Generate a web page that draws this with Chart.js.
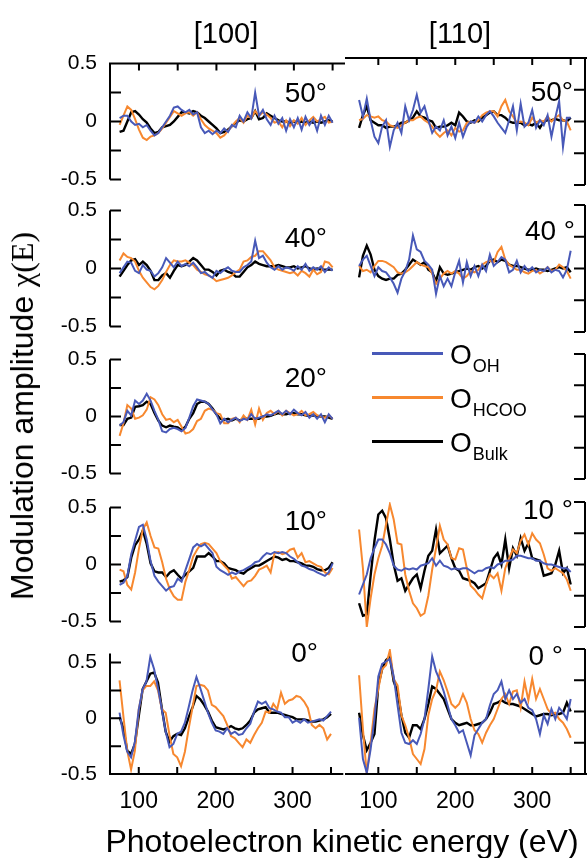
<!DOCTYPE html>
<html><head><meta charset="utf-8">
<script src="https://cdn.jsdelivr.net/npm/chart.js@4.4.1/dist/chart.umd.min.js"></script>
<style>
html,body{margin:0;padding:0;background:#fff;}
body{width:587px;height:858px;position:relative;overflow:hidden;font-family:"Liberation Sans",Arial,Helvetica,sans-serif;color:#000;}
canvas{position:absolute;}
.t{position:absolute;white-space:nowrap;line-height:1;}
.lg{position:absolute;left:372px;width:71px;height:2.5px;}
.sb{font-size:18px;position:relative;top:8px;margin-left:1px;}
</style></head><body>
<script>
// ---- data (amplitude chi(E) vs photoelectron kinetic energy in eV) ----
const energies = [75,80,85,90,95,100,105,110,115,120,125,130,135,140,145,150,155,160,165,170,175,180,185,190,195,200,205,210,215,220,225,230,235,240,245,250,255,260,265,270,275,280,285,290,295,300,305,310,315,320,325,330,335,340,345,350];
const xTicks = [100,150,200,250,300,350];
const yTicks = [-0.5,-0.25,0,0.25,0.5];
const columns = ['[100]','[110]'];
const anglesL = ['50°','40°','20°','10°','0°'];
const anglesR = ['50°','40 °','','10 °','0 °'];
const seriesNames = ['OH','HCOO','Bulk'];

// [100] azimuth
const ohL50 = [0.03,0.05,0.05,0,-0.03,-0.02,-0.05,-0.03,-0.08,-0.12,-0.10,-0.05,0,0.05,0.12,0.13,0.10,0.08,0.10,0.06,0.08,-0.05,-0.10,-0.08,-0.11,-0.08,-0.10,-0.06,-0.09,-0.03,-0.05,0.05,0,0.08,0.03,0.25,0.05,0.10,0.02,-0.03,0.05,-0.02,0.03,-0.08,0.02,-0.05,0.03,-0.07,0.04,-0.03,0.02,-0.08,0.05,-0.03,0.05,-0.01];
const hcooL50 = [-0.03,0.05,0.13,0.10,0.02,-0.07,-0.14,-0.16,-0.13,-0.12,-0.10,-0.06,-0.01,0.04,0.09,0.07,0.05,0.07,0.08,0.05,0.08,0.02,-0.03,-0.06,-0.08,-0.10,-0.14,-0.12,-0.08,-0.04,0,0.03,-0.01,0.05,0.03,0.09,0.05,0.08,0.06,0.03,-0.01,0,-0.05,0.01,-0.04,0.01,-0.02,0.03,-0.03,0.01,0.04,0,0.02,0.04,-0.01,0];
const bulkL50 = [-0.09,-0.08,0,0.08,0.09,0.06,0.02,-0.01,-0.06,-0.10,-0.09,-0.05,-0.04,-0.03,0,0.04,0.08,0.08,0.07,0.09,0.08,0.05,0.03,0,-0.03,-0.06,-0.10,-0.09,-0.07,-0.04,-0.01,0.01,0,0.02,0.03,0.09,0.02,0.03,0.07,0.05,0.03,0.01,0,0,-0.01,0,-0.01,0,-0.01,0,-0.01,0,-0.01,0,0.01,0];

const ohL40 = [-0.04,0.01,0.06,0.05,-0.02,-0.04,0.03,-0.01,-0.02,-0.07,-0.04,0.01,0.09,0.05,0.01,0.06,0.02,0.04,0.02,0.05,0.01,-0.04,-0.03,-0.06,-0.08,-0.02,-0.04,-0.01,0.01,-0.02,-0.03,-0.03,0.01,0.03,0.06,0.24,0.09,0.11,0.05,0.01,-0.01,0.02,-0.01,0.01,0,-0.02,0.02,-0.01,0.04,-0.02,0.01,-0.01,0.02,-0.03,0.01,-0.02];
const hcooL40 = [0.07,0.13,0.10,0.09,0.06,-0.02,-0.08,-0.12,-0.16,-0.18,-0.15,-0.10,-0.03,0.03,0.07,0.06,0.06,0.07,0.05,0.03,-0.01,-0.03,-0.05,-0.06,-0.08,-0.11,-0.10,-0.09,-0.08,-0.06,-0.03,-0.01,0.06,0.07,0.10,0.11,0.15,0.15,0.11,0.07,0.01,-0.01,-0.02,-0.03,-0.04,-0.03,-0.06,-0.02,-0.04,-0.07,-0.01,-0.05,-0.03,0.06,0.05,0.01];
const bulkL40 = [-0.07,-0.02,0.03,0.07,0.08,0.03,0.06,0.03,-0.02,-0.10,-0.10,-0.06,-0.04,-0.08,-0.02,0.03,0.02,0.03,0.06,0.09,0.07,0.03,-0.01,-0.01,-0.03,-0.06,-0.02,-0.01,-0.03,-0.04,-0.07,-0.07,-0.03,0.01,0.03,0.06,0.04,0.03,0.02,0.02,0.02,0.03,0.02,0.01,0.01,0.02,0,0.01,0.02,0,-0.01,0,-0.01,-0.01,-0.01,-0.01];

const ohL20 = [-0.08,-0.05,0.05,0.01,0.14,0.11,0.14,0.20,0.14,0.05,-0.03,-0.13,-0.14,-0.11,-0.10,-0.11,-0.13,-0.10,-0.01,0.09,0.15,0.14,0.13,0.11,0.06,0.02,-0.06,-0.02,-0.05,-0.03,-0.01,-0.04,-0.02,-0.03,0.02,-0.02,-0.01,0,0.02,0.01,0.03,0.05,0.02,0.05,0.02,0.06,0.03,0.01,0.04,-0.01,0.02,-0.02,0.02,-0.05,0.02,-0.02];
const hcooL20 = [-0.17,-0.06,0.10,0.07,-0.02,-0.01,0.01,0.06,0.17,0.15,0.10,0.02,-0.03,-0.02,-0.05,-0.03,-0.09,-0.15,-0.14,-0.11,-0.04,-0.02,0.05,0.07,0.06,0.03,0.02,-0.06,-0.06,-0.02,-0.01,-0.05,0.01,-0.03,0.06,-0.07,0.07,-0.03,0.03,0.05,0.02,0.05,0.01,0.05,0.03,0.01,0.02,0.05,0.01,0.02,0.04,0.01,0,-0.01,0.01,-0.02];
const bulkL20 = [-0.075,-0.075,-0.02,-0.01,0.085,0.09,0.10,0.13,0.11,0.03,-0.035,-0.08,-0.095,-0.08,-0.09,-0.095,-0.12,-0.09,-0.02,0.03,0.11,0.13,0.13,0.11,0.07,0.02,-0.02,-0.03,-0.02,-0.035,-0.02,-0.035,-0.02,-0.02,-0.02,-0.02,-0.02,0,0,0.005,0.02,0.03,0.02,0.02,0.03,0.03,0.02,0.02,0.01,0.005,0.01,0.005,0,0,-0.01,-0.02];

const ohL10 = [-0.18,-0.16,-0.10,0.09,0.21,0.33,0.35,0.22,0.03,-0.10,-0.15,-0.19,-0.23,-0.20,-0.19,-0.125,-0.15,-0.05,0.05,0.15,0.18,0.16,0.18,0.14,0.10,-0.02,-0.05,-0.07,-0.09,-0.07,-0.085,-0.06,-0.05,-0.03,-0.01,0.02,0.03,0.07,0.10,0.09,0.11,0.10,0.11,0.10,0.07,0.05,0.02,-0.01,-0.02,-0.04,-0.05,-0.07,-0.085,-0.10,-0.07,0.01];
const hcooL10 = [-0.045,-0.06,-0.18,-0.22,-0.07,0.14,0.31,0.37,0.25,0.15,0.14,0.02,-0.125,-0.22,-0.28,-0.31,-0.31,-0.15,-0.045,0.07,0.13,0.18,0.19,0.18,0.14,0.10,0.03,-0.01,-0.045,-0.125,-0.11,-0.15,-0.19,-0.15,-0.14,-0.10,-0.045,-0.03,-0.01,-0.07,0.10,0.11,0.09,0.10,0.13,0.14,0.06,0.10,0.02,0.03,0.01,-0.01,-0.02,-0.07,-0.085,-0.03];
const bulkL10 = [-0.15,-0.14,-0.11,0.06,0.17,0.22,0.30,0.18,0.01,-0.06,-0.07,-0.07,-0.11,-0.07,-0.05,-0.09,-0.125,-0.09,-0.06,-0.03,0.07,0.07,0.07,0.10,0.07,0.03,0.03,0.01,-0.03,-0.04,-0.05,-0.07,-0.08,-0.05,-0.03,-0.01,-0.01,0.01,0.03,0.05,0.07,0.06,0.04,0.05,0.03,0.03,0.02,0.01,-0.01,-0.01,-0.02,-0.04,-0.05,-0.05,-0.03,0.02];

const ohL0 = [0.05,-0.15,-0.30,-0.35,-0.21,0.08,0.26,0.33,0.55,0.44,0.27,0.08,-0.12,-0.26,-0.23,-0.14,-0.12,-0.04,0.10,0.25,0.37,0.27,0.16,0.05,-0.04,-0.11,-0.12,-0.14,-0.09,-0.14,-0.12,-0.15,-0.14,-0.09,-0.05,0.06,0.15,0.13,0.15,0.09,0.08,0.06,0.05,0.01,0.01,-0.04,-0.02,-0.04,-0.01,-0.04,-0.03,-0.02,-0.01,-0.02,0.02,0.06];
const hcooL0 = [0.34,0.02,-0.29,-0.46,-0.29,0.08,0.25,0.29,0.29,0.33,0.25,0.08,0.05,-0.15,-0.32,-0.35,-0.43,-0.30,-0.09,0.10,0.29,0.30,0.29,0.25,0.12,0.10,0.06,0.02,-0.06,-0.16,-0.18,-0.22,-0.26,-0.19,-0.22,-0.15,-0.09,-0.04,0.06,0.05,0.13,0.08,0.23,0.13,0.16,0.17,0.20,0.19,0.15,0.09,-0.06,-0.09,-0.06,-0.09,-0.19,-0.14];
const bulkL0 = [0.01,-0.09,-0.29,-0.32,-0.23,0.02,0.26,0.33,0.40,0.41,0.32,0.09,-0.12,-0.21,-0.16,-0.14,-0.15,-0.09,0.01,0.10,0.20,0.17,0.12,0.06,-0.02,-0.08,-0.09,-0.10,-0.09,-0.07,-0.09,-0.10,-0.09,-0.06,-0.02,0.05,0.08,0.09,0.10,0.05,0.05,0.05,0.04,0.03,0.02,0.01,-0.01,-0.01,-0.01,-0.02,-0.03,-0.03,-0.02,-0.01,0.01,0.04];

// [110] azimuth
const ohR50 = [0.17,0.04,0.18,0.01,-0.12,-0.17,-0.04,0.01,-0.20,-0.07,-0.01,-0.09,0.12,0.01,0.09,0.21,0.07,0.12,0.01,-0.09,-0.04,-0.07,0.01,-0.11,-0.04,-0.13,-0.01,-0.12,-0.04,0,-0.01,0.04,0,0.05,0.08,0.04,-0.01,-0.05,-0.09,0.01,0.12,-0.07,0.14,-0.04,-0.01,0.09,-0.05,0.01,-0.03,0.05,-0.12,0.03,0.16,-0.20,0.03,0.03];
const hcooR50 = [0.01,0.02,0.05,0.04,0.03,0.04,0.01,0,-0.03,-0.04,-0.05,-0.03,-0.01,0.01,0.01,0.03,0.04,0.01,-0.01,-0.04,-0.09,-0.12,-0.09,-0.07,-0.11,-0.05,-0.08,-0.07,-0.01,0,-0.01,0.01,0.05,0.07,0.08,0.08,0.04,0.12,0.17,0.08,0.04,-0.01,0,-0.01,-0.03,0.03,-0.01,0.01,0,0.04,0,0.03,0.05,0.01,0,-0.07];
const bulkR50 = [-0.05,0.05,0.12,0.01,-0.01,-0.03,-0.03,-0.05,-0.04,-0.04,-0.03,-0.01,-0.01,0.01,0.03,0.08,0.04,0.03,0.01,0,-0.05,-0.04,-0.04,-0.03,-0.01,-0.03,0.07,0.04,0,-0.01,0.01,0,0.03,0.05,0.07,0.08,0.05,0.05,0.03,0,-0.01,-0.01,-0.01,-0.03,-0.02,-0.03,-0.01,-0.05,0,0.01,0.01,0.02,0.01,0.01,0,0.03];

const ohR40 = [0.02,0.07,0.10,0.02,-0.06,0.01,-0.02,-0.03,-0.07,-0.12,-0.19,-0.08,-0.02,0.07,0.26,0.15,0.13,0.06,0.03,-0.01,-0.20,-0.06,-0.14,-0.08,-0.14,-0.03,0.06,-0.11,0.05,-0.06,0.02,-0.06,0.03,-0.02,0.11,0.02,0.05,0.09,0.07,-0.03,-0.01,0.06,-0.03,0.02,-0.02,0.01,-0.03,-0.01,-0.02,0.01,-0.03,-0.01,-0.02,-0.07,-0.01,0.14];
const hcooR40 = [0.02,-0.02,-0.01,-0.03,0.02,0.06,0.06,0.05,0.03,0.01,-0.03,-0.04,-0.03,-0.01,0.02,0.05,0.03,0.02,0.01,-0.04,-0.12,-0.08,-0.04,-0.02,-0.04,-0.02,-0.04,-0.08,-0.06,-0.02,-0.03,-0.01,0.03,0.05,0.06,0.05,0.13,0.17,0.07,0.03,0.01,-0.01,-0.01,-0.03,-0.04,-0.02,-0.01,-0.04,-0.02,0.01,-0.02,-0.01,0.03,0.01,-0.02,-0.08];
const bulkR40 = [-0.07,0.10,0.18,0.11,-0.01,-0.06,-0.08,-0.09,-0.08,-0.08,-0.05,-0.04,-0.01,0.03,0.07,0.05,0.03,0.05,-0.01,-0.03,-0.10,0.01,-0.04,-0.05,-0.04,-0.03,-0.02,-0.01,0,-0.01,0.01,0.02,0,0.02,0.06,0.07,0.05,0.07,0.06,0.03,0.02,0.02,0.01,0,-0.01,-0.01,0,-0.01,-0.01,-0.02,-0.01,0,0.01,0,0.01,-0.03];

const ohR10 = [-0.24,-0.16,-0.08,0.05,0.13,0.20,0.20,0.16,0.09,-0.01,-0.04,-0.05,-0.03,-0.04,-0.03,-0.04,-0.01,0,0.01,0.05,-0.01,0.03,-0.01,-0.02,-0.04,-0.03,-0.04,-0.03,-0.03,-0.05,-0.07,-0.05,-0.05,-0.03,-0.02,-0.03,0,0.01,0.03,0.03,0.04,0.07,0.07,0.06,0.05,0.05,0.03,0.03,0.01,0,0,-0.01,-0.02,-0.03,-0.03,-0.06];
const hcooR10 = [0.28,-0.03,-0.50,-0.27,-0.08,0.05,0.15,0.32,0.48,0.36,0.17,0.16,-0.08,-0.21,-0.31,-0.35,-0.41,-0.39,-0.25,-0.04,0.13,0.31,0.20,0.16,0.05,0.04,0.13,0.12,-0.03,-0.17,-0.20,-0.24,-0.27,-0.16,-0.08,-0.11,-0.07,-0.21,-0.03,0.05,0.12,0.09,0.19,0.24,0.16,0.25,0.20,0.17,0.08,-0.03,-0.05,-0.03,-0.05,-0.07,-0.12,-0.21];
const bulkR10 = [-0.31,-0.41,-0.40,-0.09,0.19,0.40,0.43,0.37,0.20,0,-0.13,-0.11,-0.21,-0.16,-0.11,-0.08,-0.19,-0.05,0.07,0.11,0.28,0.09,0.12,0.15,0.05,-0.03,-0.05,-0.11,-0.12,-0.13,-0.15,-0.19,-0.17,-0.15,-0.05,0.05,0.09,0,0.20,-0.03,0.13,0.07,0.21,0.11,0.17,0.05,0.04,0.03,-0.09,-0.08,-0.07,0,0.11,-0.07,-0.03,-0.16];

const ohR0 = [-0.05,-0.38,-0.49,-0.30,-0.06,0.28,0.38,0.40,0.42,0.28,0.05,-0.17,-0.25,-0.26,-0.23,-0.26,-0.18,-0.06,0.18,0.44,0.32,0.25,0.16,0.05,-0.06,-0.11,-0.17,-0.15,-0.25,-0.35,-0.19,-0.14,-0.09,-0.06,0.05,0.14,0.17,0.24,0.10,0.17,0.10,0.14,0.07,0.10,0.03,0.01,-0.06,-0.18,-0.03,-0.10,0.02,-0.06,0.03,-0.01,-0.06,0.10];
const hcooR0 = [0.29,-0.14,-0.50,-0.25,0.02,0.18,0.34,0.37,0.49,0.26,0.21,-0.03,-0.11,-0.21,-0.34,-0.38,-0.42,-0.30,-0.03,0.10,0.17,0.32,0.25,0.16,0.06,0.03,0.06,0.14,0.07,-0.06,-0.15,-0.18,-0.25,-0.17,-0.11,-0.06,0.02,0.10,0.14,0.06,0.16,0.17,0.03,0.24,0.09,0.26,0.10,0.18,0.10,0.02,-0.02,-0.01,-0.06,-0.09,-0.14,-0.21];
const bulkR0 = [-0.01,-0.19,-0.31,-0.25,-0.18,0.21,0.34,0.41,0.44,0.24,0.16,-0.03,-0.17,-0.21,-0.11,-0.11,-0.14,-0.06,0.06,0.20,0.18,0.14,0.10,0.02,-0.06,-0.09,-0.11,-0.10,-0.09,-0.11,-0.11,-0.10,-0.09,-0.06,-0.01,0.06,0.07,0.09,0.07,0.06,0.06,0.05,0.04,0.02,0,-0.02,-0.04,-0.03,-0.02,-0.02,-0.03,-0.02,-0.02,-0.01,0.07,0];

// ---- layout / style ----
const FONT = '"Liberation Sans", Arial, Helvetica, sans-serif';
const BLUE = '#4859b8', ORANGE = '#f7882f', BLACK = '#000000';
const COLORS = [BLUE, ORANGE, BLACK];
Chart.defaults.font.family = FONT;
Chart.defaults.color = '#000';

const rows = [
  {top:58,  bottom:185, ymaxL:0.5,  topR:58,  L:[ohL50,hcooL50,bulkL50], R:[ohR50,hcooR50,bulkR50], first:true},
  {top:205, bottom:332, ymaxL:0.5,  topR:205, L:[ohL40,hcooL40,bulkL40], R:[ohR40,hcooR40,bulkR40]},
  {top:354, bottom:479, ymaxL:0.5,  topR:354, L:[ohL20,hcooL20,bulkL20], R:null},
  {top:502, bottom:627, ymaxL:0.5,  topR:502, L:[ohL10,hcooL10,bulkL10], R:[ohR10,hcooR10,bulkR10]},
  {top:648, bottom:774, ymaxL:0.58, topR:649, L:[ohL0,hcooL0,bulkL0],   R:[ohR0,hcooR0,bulkR0], last:true}
];

const frame = {
  id: 'frame',
  afterDatasetsDraw(chart, args, o) {
    const ctx = chart.ctx, a = chart.chartArea, xs = chart.scales.x, ys = chart.scales.y;
    ctx.save();
    ctx.strokeStyle = '#000'; ctx.lineWidth = 2; ctx.lineCap = 'butt';
    ctx.beginPath();
    const isL = o.side === 'L';
    const vx = isL ? a.left : a.right;
    const dir = isL ? 1 : -1;
    ctx.moveTo(vx, a.top - (o.top ? 1 : 0)); ctx.lineTo(vx, a.bottom + (o.bottom ? 1 : 0));
    yTicks.forEach(v => { const p = ys.getPixelForValue(v); ctx.moveTo(vx, p); ctx.lineTo(vx + dir * 11, p); });
    if (o.top || o.bottom) {
      const yy = o.top ? a.top : a.bottom;
      const d = o.top ? 1 : -1;
      const x0 = isL ? a.left - 1 : a.left;
      const x1 = isL ? a.right : chart.width;
      ctx.moveTo(x0, yy); ctx.lineTo(x1, yy);
      xTicks.forEach(v => { const p = xs.getPixelForValue(v); ctx.moveTo(p, yy); ctx.lineTo(p, yy + d * 7); });
    }
    ctx.stroke(); ctx.restore();
  }
};

function pts(vals) { return energies.map((e, i) => ({x: e, y: vals[i]})); }

function panel(side, row) {
  const isL = side === 'L';
  const series = isL ? row.L : row.R;
  const top = isL ? row.top : row.topR;
  const bottom = row.bottom;
  const padTop = 20, padBottom = 20, xH = 48;
  const cvLeft = isL ? 0 : 345, cvW = isL ? 345 : 242;
  const cvTop = top - padTop;
  const cvH = (bottom - top) + padTop + (row.last ? xH : padBottom);
  const cv = document.createElement('canvas');
  cv.width = cvW; cv.height = cvH;
  cv.style.left = cvLeft + 'px'; cv.style.top = cvTop + 'px';
  cv.style.width = cvW + 'px'; cv.style.height = cvH + 'px';
  document.body.appendChild(cv);
  const datasets = series ? series.map((s, k) => ({
    label: seriesNames[k], data: pts(s), borderColor: COLORS[k],
    borderWidth: k === 2 ? 2.4 : 2, pointRadius: 0, tension: 0, fill: false
  })) : [];
  const showX = !!row.last, showY = isL;
  new Chart(cv, {
    type: 'line',
    data: { datasets },
    plugins: [frame],
    options: {
      responsive: false, maintainAspectRatio: false, devicePixelRatio: 1, animation: false, events: [],
      layout: { padding: { top: padTop, bottom: row.last ? 0 : padBottom, left: 0, right: isL ? 0 : 2 } },
      plugins: { legend: { display: false }, tooltip: { enabled: false },
                 frame: { side, top: !!row.first, bottom: !!row.last } },
      scales: {
        x: {
          type: 'linear', min: isL ? 62.6 : 56.7, max: isL ? 366 : 368.6,
          display: showX,
          afterFit: s => { s.height = showX ? xH : 0; },
          afterBuildTicks: s => { s.ticks = xTicks.map(v => ({value: v})); },
          grid: { display: false, drawTicks: false }, border: { display: false },
          ticks: { autoSkip: false, maxRotation: 0, padding: 14, color: '#000',
                   font: { family: FONT, size: 23 },
                   callback: v => (v % 100 === 0 ? String(v) : '') }
        },
        y: {
          type: 'linear', min: -0.5, max: isL ? row.ymaxL : 0.5,
          display: showY, position: 'left',
          afterFit: s => { s.width = showY ? 110 : 0; },
          afterBuildTicks: s => { s.ticks = yTicks.map(v => ({value: v})); },
          grid: { display: false, drawTicks: false }, border: { display: false },
          ticks: { autoSkip: false, padding: 13, color: '#000',
                   font: { family: FONT, size: 21 },
                   callback: v => (v === 0.5 ? '0.5' : v === 0 ? '0' : v === -0.5 ? '-0.5' : '') }
        }
      }
    }
  });
}

rows.forEach(r => { panel('L', r); panel('R', r); });

// ---- text ----
function text(html, x, y, size, tf) {
  const d = document.createElement('div');
  d.className = 't';
  d.innerHTML = html;
  d.style.left = x + 'px'; d.style.top = y + 'px';
  d.style.fontSize = size + 'px';
  d.style.transform = tf;
  document.body.appendChild(d);
  return d;
}
text(columns[0], 226, 33, 29, 'translate(-50%,-50%)');
text(columns[1], 460, 33, 29, 'translate(-50%,-50%)');
const angPosL = [[327,93],[327,238],[327,378],[327,521],[318,653]];
const angPosR = [[573,92],[575,231],[0,0],[573,510],[563,656]];
anglesL.forEach((a, i) => text(a, angPosL[i][0], angPosL[i][1], 28, 'translate(-100%,-50%)'));
anglesR.forEach((a, i) => { if (a) text(a, angPosR[i][0], angPosR[i][1], 28, 'translate(-100%,-50%)'); });
text('Photoelectron kinetic energy (eV)', 342, 841, 32, 'translate(-50%,-50%)');
text('Modulation amplitude <span style="font-family:\'Liberation Serif\',serif">χ(E)</span>', 22, 416, 32, 'translate(-50%,-50%) rotate(-90deg)');

// legend
const lgY = [352, 396, 440];
const lgT = [341, 385, 429];
seriesNames.forEach((n, k) => {
  const l = document.createElement('div');
  l.className = 'lg'; l.style.top = lgY[k] + 'px'; l.style.background = COLORS[k];
  document.body.appendChild(l);
  text('O<span class="sb">' + n + '</span>', 450, lgT[k], 28, 'none');
});
</script>
</body></html>
